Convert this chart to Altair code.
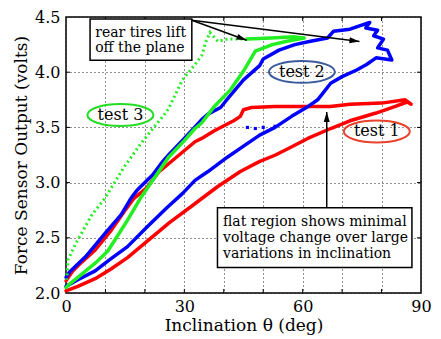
import math
import altair as alt
import pandas as pd

W, H = 355, 276
FONT = "DejaVu Serif"

# ---------------- data ----------------
# test 1 (red): lower curve up to the right end, then the upper curve back
t1_x = [0, 3, 7.4, 11.5, 15.6, 20.6, 26.3, 32, 38.3, 44.2, 49, 53.1, 57, 61.3, 67.1, 72, 78.6, 83.5, 86.5, 87.5,
        86, 80, 72, 67, 60, 53, 47, 45, 44.2, 42.5, 37.6, 34.4, 32.7, 27, 23.6, 20.4, 17.3, 14.8, 11.5, 7.4, 4, 1.7, 0]
t1_y = [2.02, 2.06, 2.13, 2.22, 2.32, 2.47, 2.64, 2.79, 2.96, 3.1, 3.19, 3.25, 3.32, 3.4, 3.49, 3.56, 3.63, 3.69, 3.73, 3.71,
        3.75, 3.72, 3.71, 3.69, 3.69, 3.69, 3.68, 3.66, 3.6, 3.56, 3.47, 3.4, 3.37, 3.2, 3.1, 2.95, 2.86, 2.74, 2.57, 2.39, 2.28, 2.2, 2.11]

# test 2 (blue)
t2_x = [0, 3, 7.4, 11, 15.6, 20.6, 25.5, 29.5, 32.7, 36, 40.9, 45, 49.1, 53, 57.2, 61.4, 63.8, 67.1, 70, 73.7, 76.2, 78.6, 82.6,
        81.5, 79, 80.5, 78, 79, 76, 77, 74.4,
        72, 67.8, 66.3, 62, 58, 54, 50, 49.1, 45, 41, 39.2, 36, 34.4, 30, 26, 24.5, 22, 18, 16.5, 14, 9.9, 5, 0.9, 0]
t2_y = [2.06, 2.12, 2.2, 2.3, 2.42, 2.6, 2.77, 2.9, 3.02, 3.1, 3.23, 3.33, 3.43, 3.5, 3.6, 3.69, 3.75, 3.9, 3.96, 4.02, 4.07, 4.13, 4.11,
        4.2, 4.22, 4.3, 4.33, 4.38, 4.4, 4.45, 4.42,
        4.39, 4.37, 4.31, 4.28, 4.25, 4.2, 4.12, 4.06, 3.93, 3.76, 3.68, 3.62, 3.57, 3.4, 3.25, 3.19, 3.07, 2.93, 2.86, 2.71, 2.54, 2.33, 2.19, 2.14]
t2_stray_x = [46, 48, 50, 53]
t2_stray_y = [3.5, 3.49, 3.5, 3.51]

# test 3 (green): dense rising curve and flat top, then the sparse return
t3_x = [0, 1.2, 4, 7.4, 10.6, 12.4, 15.6, 18.9, 21, 26, 30, 32.7, 34.4, 37.6, 41.7, 45, 48, 52.3, 56, 60.4,
        58, 52, 46]
t3_y = [2.05, 2.09, 2.17, 2.27, 2.38, 2.48, 2.66, 2.86, 2.97, 3.23, 3.38, 3.49, 3.54, 3.69, 3.84, 4.01, 4.19, 4.25, 4.28, 4.31,
        4.32, 4.31, 4.3]
t3s_x = [46, 41, 38.5, 36.5, 35.5, 34.4, 32.7, 29.5, 26, 24.6, 22, 18.7, 14.7, 9.9, 6.6, 2.5, 0.5, 0.2]
t3s_y = [4.3, 4.3, 4.28, 4.36, 4.28, 4.15, 4.07, 3.93, 3.67, 3.6, 3.49, 3.34, 3.14, 2.86, 2.71, 2.45, 2.3, 2.12]

x_ticks = [0, 10, 20, 30, 40, 50, 60, 70, 80, 90]
y_ticks = [2.0, 2.5, 3.0, 3.5, 4.0, 4.5]

ell_labels = ["test 1", "test 2", "test 3"]
ell_x = [78.8, 59.8, 13.8]
ell_y = [3.463, 4.003, 3.612]
ell_colors = ["#e8412c", "#3a5a9c", "#22dd22"]

box_x = [6.1, 38.4]
box_x2 = [31.9, 87.7]
box_y = [4.482, 2.772]
box_y2 = [4.108, 2.231]
box_lines = ["rear tires lift", "off the plane",
             "flat region shows minimal", "voltage change over large", "variations in inclination"]
box_line_x = [7.4, 7.4, 39.8, 39.8, 39.8]
box_line_y = [4.32, 4.18, 2.611, 2.465, 2.313]

arrow_from_x = [31.9, 31.9, 66.1]
arrow_from_y = [4.47, 4.47, 2.772]
arrow_to_x = [45.8, 74.4, 66.1]
arrow_to_y = [4.29, 4.278, 3.64]

# ---------------- tables ----------------
def path(xs, ys, name):
    return pd.DataFrame({"x": xs, "y": ys, "o": range(len(xs)), "s": name})

solid = pd.concat([path(t1_x, t1_y, "t1"), path(t2_x, t2_y, "t2"), path(t3_x, t3_y, "t3")])
sparse = path(t3s_x, t3s_y, "t3s")
stray = pd.DataFrame({"x": t2_stray_x, "y": t2_stray_y})

xs = alt.Scale(domain=[0, 90], nice=False, zero=False)
ys = alt.Scale(domain=[2.0, 4.5], nice=False, zero=False)
xaxis = alt.Axis(values=x_ticks, labelExpr="datum.value % 30 == 0 ? datum.label : ''",
                 title="Inclination θ (deg)", grid=True, gridDash=[1, 3], gridColor="#222", gridWidth=1,
                 ticks=False, domain=False, labelFlush=False, labelFont=FONT, labelFontSize=16,
                 titleFont=FONT, titleFontSize=17, titleFontWeight="normal", labelPadding=5,
                 titlePadding=3, labelColor="black", titleColor="black")
yaxis = alt.Axis(values=y_ticks, format=".1f", title="Force Sensor Output (volts)", grid=True,
                 gridDash=[1, 3], gridColor="#222", gridWidth=1, ticks=False, domain=False,
                 labelFlush=False, labelFont=FONT, labelFontSize=16, titleFont=FONT, titleFontSize=17,
                 titleFontWeight="normal", labelPadding=6, titlePadding=4, labelColor="black",
                 titleColor="black")
X = alt.X("x:Q", scale=xs, axis=xaxis)
Y = alt.Y("y:Q", scale=ys, axis=yaxis)

colors = alt.Scale(domain=["t1", "t2", "t3"], range=["#ff0000", "#0000ff", "#22ee22"])

curves = alt.Chart(solid).mark_line(strokeWidth=3.5, strokeJoin="round", strokeCap="round").encode(
    x=X, y=Y, order="o:Q", color=alt.Color("s:N", scale=colors, legend=None), detail="s:N")
sparse_line = alt.Chart(sparse).mark_line(strokeWidth=3, strokeDash=[2, 3], color="#22ee22").encode(
    x=X, y=Y, order="o:Q")
stray_pts = alt.Chart(stray).mark_square(size=10, color="#0000ff", opacity=1).encode(x=X, y=Y)

# inward ticks on all four sides
tl = 4.0
dxu = tl * 90 / W
dyu = tl * 2.5 / H
tick_rows = []
for v in x_ticks[1:-1]:
    tick_rows.append({"x": v, "x2": v, "y": 2.0, "y2": 2.0 + dyu})
    tick_rows.append({"x": v, "x2": v, "y": 4.5, "y2": 4.5 - dyu})
for v in y_ticks[1:-1]:
    tick_rows.append({"x": 0, "x2": dxu, "y": v, "y2": v})
    tick_rows.append({"x": 90, "x2": 90 - dxu, "y": v, "y2": v})
ticks = alt.Chart(pd.DataFrame(tick_rows)).mark_rule(color="black", strokeWidth=1).encode(
    x=X, y=Y, x2="x2:Q", y2="y2:Q")

# ellipses
ell_path = ("M -1 0 C -1 -0.184 -0.552 -0.333 0 -0.333 C 0.552 -0.333 1 -0.184 1 0 "
            "C 1 0.184 0.552 0.333 0 0.333 C -0.552 0.333 -1 0.184 -1 0 Z")
ell_df = pd.DataFrame({"x": ell_x, "y": ell_y, "t": ell_labels, "c": ell_colors})
ellipses = alt.Chart(ell_df).mark_point(shape=ell_path, size=66 * 66, filled=False, strokeWidth=2,
                                        opacity=1).encode(
    x=X, y=Y, stroke=alt.Stroke("c:N", scale=None))
ell_text = alt.Chart(ell_df).mark_text(font=FONT, fontSize=16, color="black", baseline="middle",
                                       align="center").encode(x=X, y=Y, text="t:N")

# arrows
arr_rows = []
head_len = 10
for xs0, ys0, xt, yt in zip(arrow_from_x, arrow_from_y, arrow_to_x, arrow_to_y):
    dxp = (xt - xs0) * W / 90
    dyp = -(yt - ys0) * H / 2.5
    ln = math.hypot(dxp, dyp)
    ux, uy = dxp / ln, dyp / ln
    cx = xt - (head_len / 2) * ux * 90 / W
    cy = yt + (head_len / 2) * uy * 2.5 / H
    ang = math.degrees(math.atan2(dyp, dxp)) % 360
    arr_rows.append({"x": xs0, "y": ys0, "x2": xt, "y2": yt, "hx": cx, "hy": cy, "ang": ang})
arr_df = pd.DataFrame(arr_rows)
arrow_lines = alt.Chart(arr_df).mark_rule(color="black", strokeWidth=1.5).encode(
    x=X, y=Y, x2="x2:Q", y2="y2:Q")
arrow_heads = alt.Chart(arr_df).mark_point(shape="M 1 0 L -1 -0.6 L -1 0.6 Z", size=head_len ** 2,
                                           filled=True, color="black", opacity=1).encode(
    x=alt.X("hx:Q", scale=xs, axis=xaxis), y=alt.Y("hy:Q", scale=ys, axis=yaxis),
    angle=alt.Angle("ang:Q", scale=None))

# boxes
box_df = pd.DataFrame({"x": box_x, "x2": box_x2, "y": box_y, "y2": box_y2})
boxes = alt.Chart(box_df).mark_rect(fill="white", stroke="black", strokeWidth=1.5).encode(
    x=X, y=Y, x2="x2:Q", y2="y2:Q")
box_text_df = pd.DataFrame({"x": box_line_x, "y": box_line_y, "t": box_lines})
box_text = alt.Chart(box_text_df).mark_text(font=FONT, fontSize=14, color="black", align="left",
                                            baseline="alphabetic").encode(x=X, y=Y, text="t:N")

chart = alt.layer(
    ticks, curves, sparse_line, stray_pts, ellipses, ell_text, arrow_lines, arrow_heads, boxes, box_text
).properties(
    width=W, height=H,
    autosize=alt.AutoSizeParams(type="none"),
    padding={"left": 58, "top": 9, "right": 12, "bottom": 45},
).configure_view(stroke="black", strokeWidth=1.5)

chart.save("out.html", embed_options={"renderer": "svg", "actions": False})
